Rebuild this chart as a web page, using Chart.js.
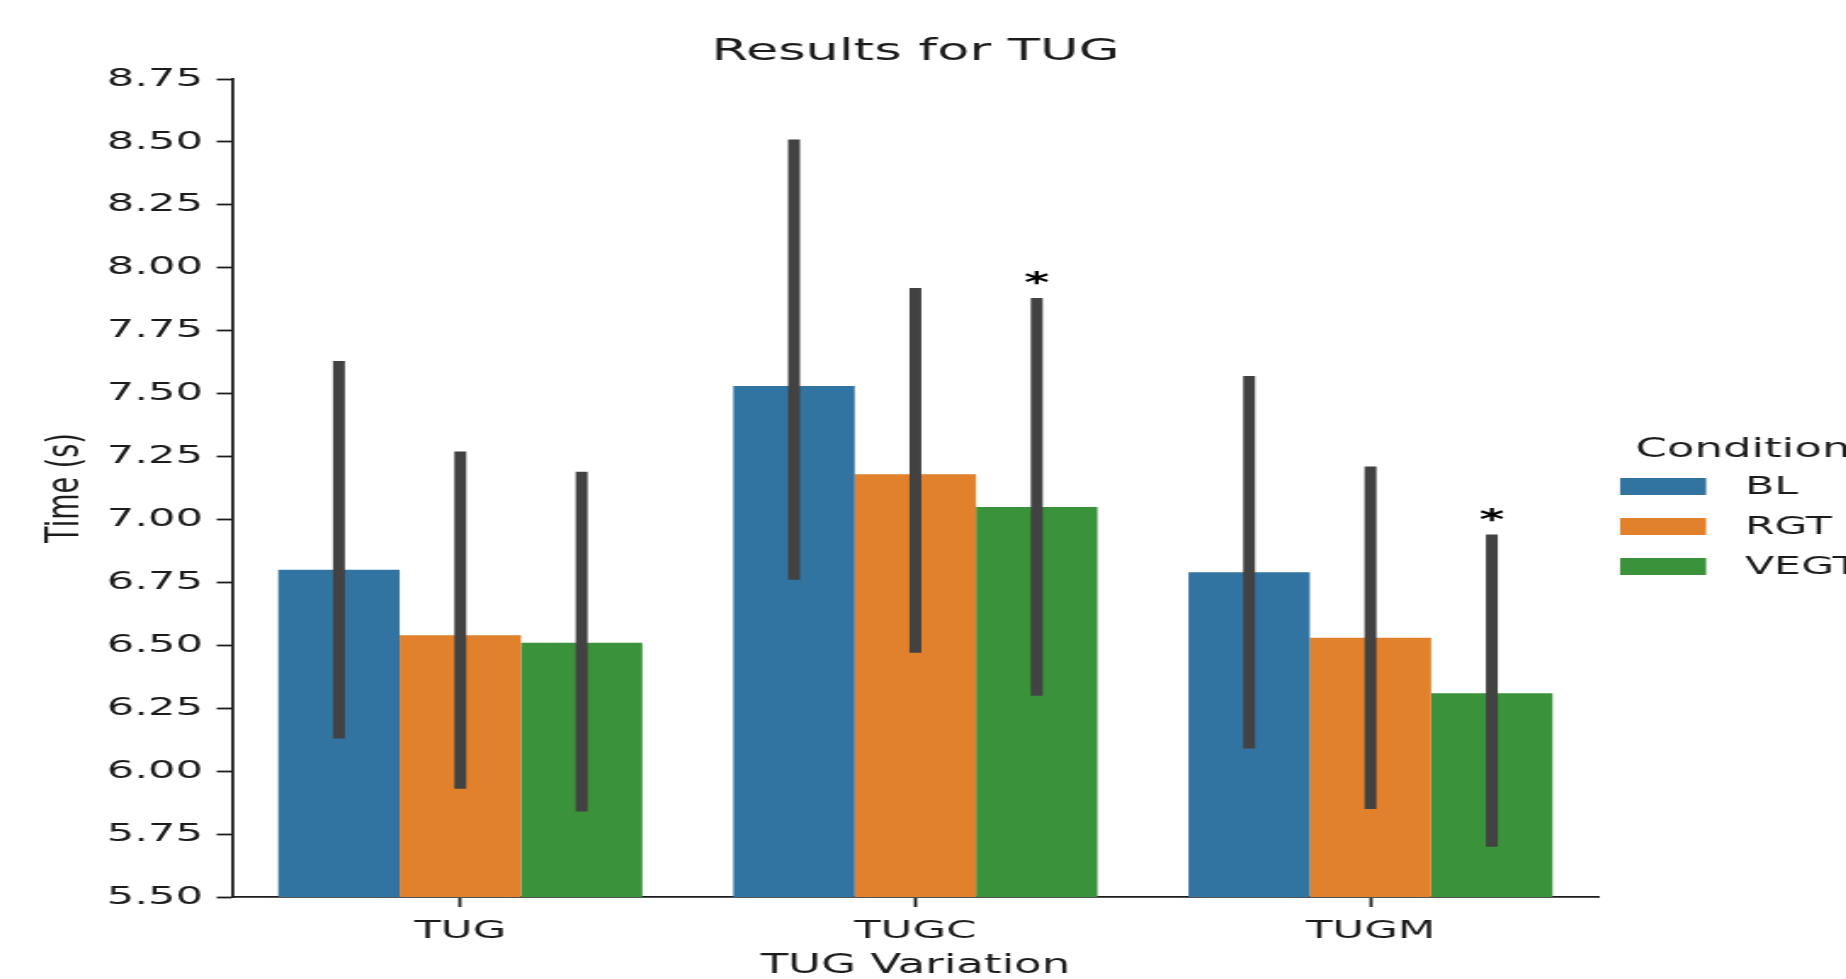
<!DOCTYPE html>
<html>
<head>
<meta charset="utf-8">
<title>Results for TUG</title>
<script src="https://cdn.jsdelivr.net/npm/chart.js@4.4.1/dist/chart.umd.min.js"></script>
<style>
    html, body { margin: 0; padding: 0; background: #ffffff; overflow: hidden; }
    /* the original figure is stretched sideways, so draw narrow and widen it */
    #wrap {
        position: absolute; left: 0; top: 0;
        width: 1086px; height: 979px;
        transform: scaleX(1.7); transform-origin: 0 0;
    }
</style>
</head>
<body>
<div id="wrap"><canvas id="tugChart"></canvas></div>
<script>
// TUG results
const variations = ['TUG', 'TUGC', 'TUGM'];
const conditions = ['BL', 'RGT', 'VEGT'];

const blMeans = [6.80, 7.53, 6.79];
const rgtMeans = [6.54, 7.18, 6.53];
const vegtMeans = [6.51, 7.05, 6.31];

// confidence interval ends [low, high]
const blCI = [[6.13, 7.63], [6.76, 8.51], [6.09, 7.57]];
const rgtCI = [[5.93, 7.27], [6.47, 7.92], [5.85, 7.21]];
const vegtCI = [[5.84, 7.19], [6.30, 7.88], [5.70, 6.94]];

// significance marks drawn above the VEGT bars
const vegtSig = ['', '*', '*'];

const yTicks = [5.50, 5.75, 6.00, 6.25, 6.50, 6.75, 7.00, 7.25, 7.50, 7.75, 8.00, 8.25, 8.50, 8.75];

const colors = ['#3274a1', '#e1812c', '#3a923a'];
const textColor = '#1c1c1c';
const errColor = '#424242';
const fontFamily = "'DejaVu Sans', sans-serif";

document.addEventListener('DOMContentLoaded', function () {
    const means = [blMeans, rgtMeans, vegtMeans];
    const cis = [blCI, rgtCI, vegtCI];
    const sigs = [null, null, vegtSig];

    const datasets = conditions.map((name, i) => ({
        label: name,
        data: means[i],
        ci: cis[i],
        sig: sigs[i],
        backgroundColor: colors[i],
        borderWidth: 0,
        categoryPercentage: 0.8,
        barPercentage: 1.0
    }));

    // error bars, stars, title and legend
    const extras = {
        id: 'extras',
        afterDatasetsDraw(chart) {
            const ctx = chart.ctx;
            const yScale = chart.scales.y;
            const area = chart.chartArea;

            ctx.save();
            chart.data.datasets.forEach((ds, di) => {
                const meta = chart.getDatasetMeta(di);
                meta.data.forEach((bar, j) => {
                    const lo = yScale.getPixelForValue(ds.ci[j][0]);
                    const hi = yScale.getPixelForValue(ds.ci[j][1]);
                    ctx.strokeStyle = errColor;
                    ctx.lineWidth = 7;
                    ctx.lineCap = 'butt';
                    ctx.beginPath();
                    ctx.moveTo(bar.x, lo);
                    ctx.lineTo(bar.x, hi);
                    ctx.stroke();

                    if (ds.sig && ds.sig[j]) {
                        ctx.fillStyle = '#000000';
                        ctx.font = 'bold 28px ' + fontFamily;
                        ctx.textAlign = 'center';
                        ctx.textBaseline = 'alphabetic';
                        ctx.fillText(ds.sig[j], bar.x, hi - 5.5);
                    }
                });
            });

            // title over the axes
            ctx.fillStyle = textColor;
            ctx.font = '31px ' + fontFamily;
            ctx.textAlign = 'center';
            ctx.textBaseline = 'alphabetic';
            ctx.fillText('Results for TUG', (area.left + area.right) / 2, 60);

            // legend to the right of the axes
            const mid = (area.top + area.bottom) / 2;
            ctx.textAlign = 'left';
            ctx.font = '26.5px ' + fontFamily;
            ctx.fillText('Condition', area.right + 22, mid - 31.5);
            ctx.font = '25px ' + fontFamily;
            chart.data.datasets.forEach((ds, i) => {
                const cy = mid - 1.5 + i * 40;
                ctx.fillStyle = ds.backgroundColor;
                ctx.fillRect(area.right + 13, cy - 8.5, 50.6, 17);
                ctx.fillStyle = textColor;
                ctx.textBaseline = 'middle';
                ctx.fillText(ds.label, area.right + 86.5, cy + 1);
            });
            ctx.restore();
        }
    };

    const ctx = document.getElementById('tugChart').getContext('2d');
    new Chart(ctx, {
        type: 'bar',
        data: {
            labels: variations,
            datasets: datasets
        },
        plugins: [extras],
        options: {
            responsive: true,
            maintainAspectRatio: false,
            animation: false,
            layout: {
                padding: { top: 79, right: 146, left: 0, bottom: 0 }
            },
            plugins: {
                legend: { display: false },
                title: { display: false },
                tooltip: { enabled: false }
            },
            scales: {
                x: {
                    offset: true,
                    grid: {
                        offset: false,
                        drawOnChartArea: false,
                        drawTicks: true,
                        tickLength: 10,
                        tickWidth: 1.8,
                        tickColor: textColor
                    },
                    border: { display: true, color: textColor, width: 1.8 },
                    ticks: {
                        color: textColor,
                        padding: 9.4,
                        maxRotation: 0,
                        font: { family: fontFamily, size: 25.5 }
                    },
                    title: {
                        display: true,
                        text: 'TUG Variation',
                        color: textColor,
                        padding: { top: 0, bottom: -3.5 },
                        font: { family: fontFamily, size: 26.5 }
                    },
                    afterFit(scale) {
                        scale.height = 82;
                    }
                },
                y: {
                    min: yTicks[0],
                    max: yTicks[yTicks.length - 1],
                    afterBuildTicks(scale) {
                        scale.ticks = yTicks.map(v => ({ value: v }));
                    },
                    grid: {
                        drawOnChartArea: false,
                        drawTicks: true,
                        tickLength: 9.4,
                        tickWidth: 1.8,
                        tickColor: textColor
                    },
                    border: { display: true, color: textColor, width: 1.8 },
                    ticks: {
                        color: textColor,
                        padding: 8,
                        font: { family: fontFamily, size: 25.5 },
                        callback: v => Number(v).toFixed(2)
                    },
                    title: {
                        display: true,
                        text: 'Time (s)',
                        color: textColor,
                        padding: { top: 22.5, bottom: 0 },
                        font: { family: fontFamily, size: 27 }
                    },
                    afterFit(scale) {
                        scale.width = 136.9;
                    }
                }
            }
        }
    });
});
</script>
</body>
</html>
